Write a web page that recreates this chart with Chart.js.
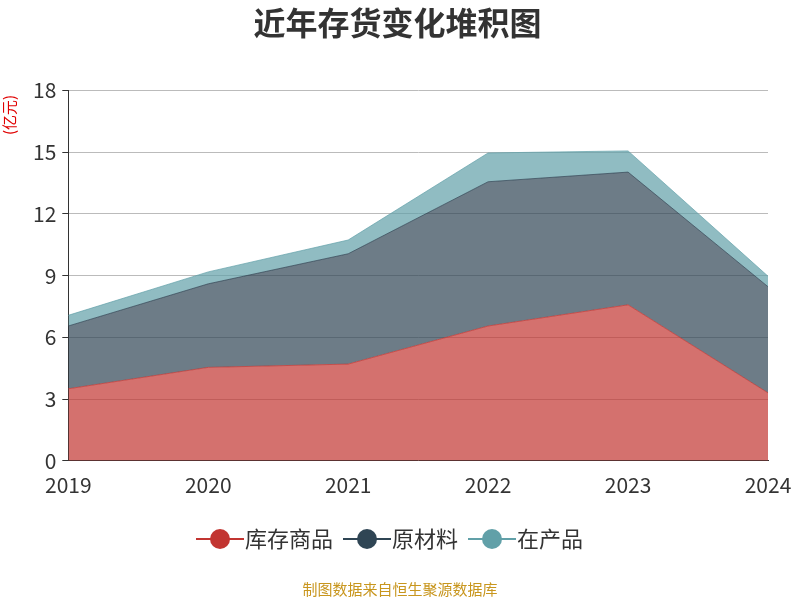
<!DOCTYPE html>
<html>
<head>
<meta charset="utf-8">
<script src="https://cdn.jsdelivr.net/npm/chart.js@4/dist/chart.umd.min.js"></script>
<style>
body { margin: 0; background: #fff; }
#wrap { width: 800px; height: 600px; position: relative; }
</style>
</head>
<body>
<div id="wrap"><canvas id="chart1"></canvas></div>
<script>
const years = ['2019', '2020', '2021', '2022', '2023', '2024'];
const finished = [3.5, 4.54, 4.7, 6.55, 7.58, 3.3];
const material = [3.05, 4.06, 5.36, 7.01, 6.45, 5.16];
const wip = [0.52, 0.58, 0.67, 1.4, 1.03, 0.51];
const seriesNames = ['库存商品', '原材料', '在产品'];
const colors = ['#c23531', '#2f4554', '#61a0a8'];

const font = '"Noto Sans CJK SC", "Noto Sans", sans-serif';

// legend icon: short line with a circle in the middle, plus a small gap on the right
function makeIcon(color) {
    const c = document.createElement('canvas');
    c.width = 58; c.height = 24;
    const g = c.getContext('2d');
    g.strokeStyle = color; g.lineWidth = 2;
    g.beginPath(); g.moveTo(2, 12); g.lineTo(50, 12); g.stroke();
    g.fillStyle = color;
    g.beginPath(); g.arc(26, 12, 10, 0, Math.PI * 2); g.fill();
    return c;
}

function alpha(hex, a) {
    const n = parseInt(hex.slice(1), 16);
    return `rgba(${n >> 16},${(n >> 8) & 255},${n & 255},${a})`;
}

const extras = {
    id: 'extras',
    afterDraw(chart) {
        const ctx = chart.ctx;
        ctx.save();
        ctx.fillStyle = '#c8961e';
        ctx.font = '15px ' + font;
        ctx.textAlign = 'center';
        ctx.textBaseline = 'middle';
        ctx.fillText('制图数据来自恒生聚源数据库', 400, 589);
        ctx.translate(9, 115);
        ctx.rotate(-Math.PI / 2);
        ctx.fillStyle = '#e00000';
        ctx.font = '15px ' + font;
        ctx.fillText('(亿元)', 0, 0);
        ctx.restore();
    }
};

const data = {
    labels: years,
    datasets: [finished, material, wip].map((v, i) => ({
        label: seriesNames[i],
        data: v,
        fill: i === 0 ? 'origin' : '-1',
        backgroundColor: alpha(colors[i], 0.7),
        borderColor: alpha(colors[i], 0.7),
        borderWidth: 1,
        pointRadius: 0,
        pointStyle: makeIcon(colors[i]),
        tension: 0
    }))
};

new Chart(document.getElementById('chart1').getContext('2d'), {
    type: 'line',
    data: data,
    options: {
        responsive: true,
        maintainAspectRatio: false,
        animation: false,
        layout: { padding: { left: 27, right: 32, top: 0, bottom: 40 } },
        plugins: {
            title: {
                display: true,
                text: '近年存货变化堆积图',
                color: '#333',
                font: { size: 32, weight: 'bold', family: font },
                padding: { top: 4, bottom: 48 }
            },
            legend: {
                position: 'bottom',
                labels: {
                    usePointStyle: true,
                    color: '#333',
                    font: { size: 22, family: font },
                    padding: 26
                }
            },
            tooltip: { enabled: false }
        },
        scales: {
            x: {
                grid: { display: false, drawTicks: true },
                border: { color: '#333' },
                ticks: { color: '#333', font: { size: 21, family: font }, maxRotation: 0, padding: 4 },
                offset: false
            },
            y: {
                stacked: true,
                min: 0, max: 18,
                ticks: { stepSize: 3, color: '#333', font: { size: 21, family: font }, padding: 6 },
                grid: { color: '#bbb', tickLength: 6, tickColor: '#333' },
                border: { color: '#333' }
            }
        }
    },
    plugins: [extras]
});
</script>
</body>
</html>
